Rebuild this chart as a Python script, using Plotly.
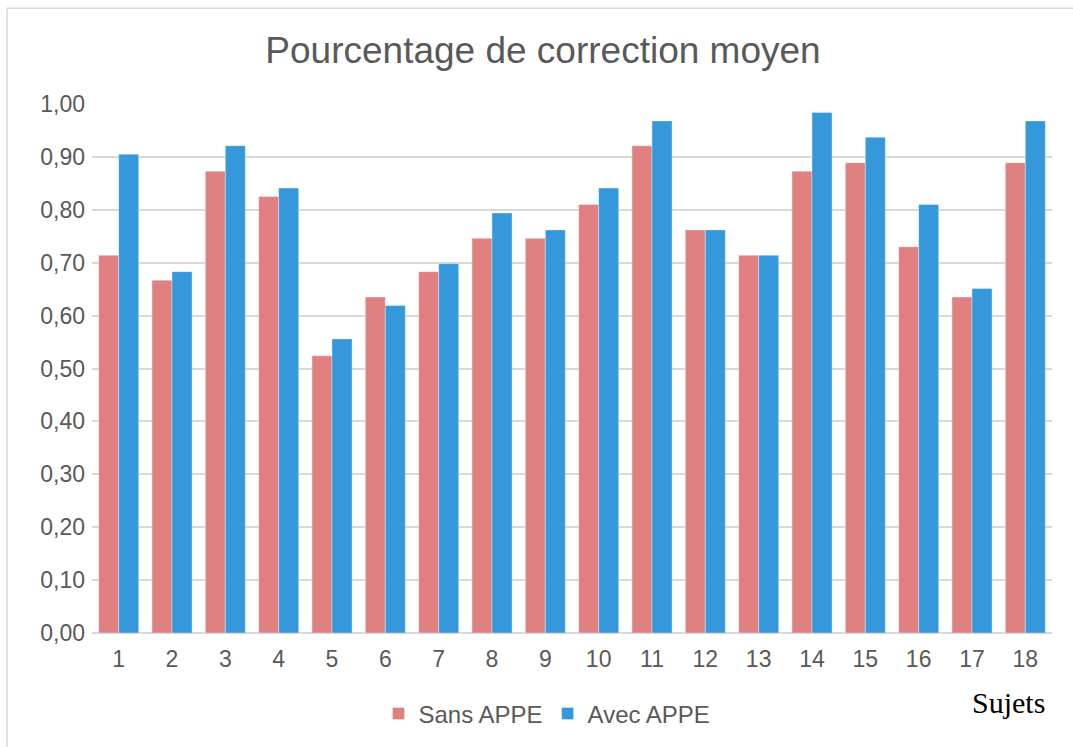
import plotly.graph_objects as go

# Mean correction percentage per subject, without and with APPE
sujets = [str(i) for i in range(1, 19)]
sans_appe = [0.714, 0.667, 0.873, 0.825, 0.524, 0.635, 0.683, 0.746, 0.746,
             0.810, 0.921, 0.762, 0.714, 0.873, 0.889, 0.730, 0.635, 0.889]
avec_appe = [0.905, 0.683, 0.921, 0.841, 0.556, 0.619, 0.698, 0.794, 0.762,
             0.841, 0.968, 0.762, 0.714, 0.984, 0.937, 0.810, 0.651, 0.968]
y_ticks = [0.0, 0.1, 0.2, 0.3, 0.4, 0.5, 0.6, 0.7, 0.8, 0.9, 1.0]

W, H = 1073, 747
L, R, T, B = 92, 21, 104, 113
pw, ph = W - L - R, H - T - B


def px_x(x):
    return (x - L) / pw


def px_y(y):
    return (H - B - y) / ph


text_col = "#595959"
grid_col = "#d9d9d9"

fig = go.Figure()
fig.add_trace(go.Bar(
    x=sujets, y=sans_appe, name="Sans APPE",
    marker=dict(color="#e08080", line=dict(color="rgba(255,255,255,0.35)", width=1)),
))
fig.add_trace(go.Bar(
    x=sujets, y=avec_appe, name="Avec APPE",
    marker=dict(color="#3498db", line=dict(color="rgba(255,255,255,0.35)", width=1)),
))

fig.update_layout(
    width=W, height=H,
    margin=dict(l=L, r=R, t=T, b=B),
    paper_bgcolor="white", plot_bgcolor="white",
    separators=", ",
    barmode="group", bargap=0.25, bargroupgap=0,
    font=dict(family="Liberation Sans, Arial, sans-serif", color=text_col, size=23),
    title=dict(
        text="Pourcentage de correction moyen",
        x=543 / W, xref="container", xanchor="center",
        y=1 - 50 / H, yref="container", yanchor="middle",
        font=dict(size=37, color=text_col),
    ),
    legend=dict(
        orientation="h", x=px_x(547), xanchor="center",
        y=px_y(714), yanchor="middle",
        font=dict(size=24, color=text_col),
        itemwidth=30, traceorder="normal",
    ),
    showlegend=True,
)

fig.update_yaxes(
    range=[0, 1.0], tickvals=y_ticks, tickformat=".2f",
    showgrid=True, gridcolor=grid_col, gridwidth=1.5,
    zeroline=True, zerolinecolor=grid_col, zerolinewidth=1.5,
    showline=False, ticks="", ticklabelstandoff=6,
    tickfont=dict(size=23, color=text_col),
)
fig.update_xaxes(
    type="category", showgrid=False, showline=False, ticks="",
    tickfont=dict(size=23, color=text_col), ticklabelstandoff=10,
)

# Axis caption in serif at the bottom right
fig.add_annotation(
    text="Sujets", xref="paper", yref="paper",
    x=px_x(1008), y=px_y(704), xanchor="center", yanchor="middle",
    showarrow=False,
    font=dict(family="Liberation Serif, Times New Roman, serif", size=30, color="black"),
)

# Light frame round the chart
fig.add_shape(
    type="rect", xref="paper", yref="paper",
    x0=px_x(7), x1=px_x(1076), y0=px_y(752), y1=px_y(8),
    line=dict(color=grid_col, width=1.5), fillcolor="rgba(0,0,0,0)", layer="below",
)

fig.write_html("out.html")
